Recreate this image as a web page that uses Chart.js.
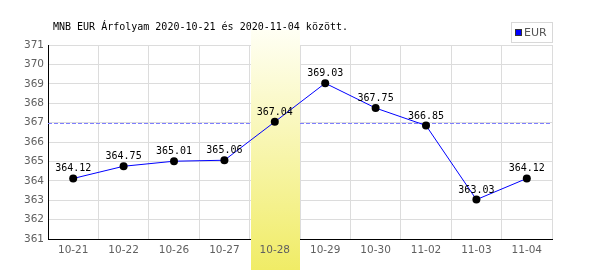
<!DOCTYPE html>
<html>
<head>
<meta charset="utf-8">
<script src="https://cdn.jsdelivr.net/npm/chart.js@4"></script>
<style>
  html, body { margin: 0; padding: 0; background: #fff; }
  #wrap { width: 600px; height: 270px; }
</style>
</head>
<body>
<div id="wrap"><canvas id="chart" width="600" height="270"></canvas></div>
<script>
// Data
const titleText = "MNB EUR Árfolyam 2020-10-21 és 2020-11-04 között.";
const seriesName = "EUR";
const dates = ["10-21", "10-22", "10-26", "10-27", "10-28", "10-29", "10-30", "11-02", "11-03", "11-04"];
const rates = [364.12, 364.75, 365.01, 365.06, 367.04, 369.03, 367.75, 366.85, 363.03, 364.12];
const yMin = 361;
const yMax = 371;
const refLevel = 367;      // dashed line
const highlightIndex = 4;  // 10-28

const monoFont = "10px 'DejaVu Sans Mono', monospace";

// Highlight column + dashed reference line, drawn over grid but under the line
const backdropPlugin = {
  id: "backdrop",
  beforeDatasetsDraw(chart) {
    const { ctx, chartArea, scales: { x, y } } = chart;
    ctx.save();
    // dashed line first, the highlight covers it
    const ly = Math.round(y.getPixelForValue(refLevel)) + 0.5;
    ctx.strokeStyle = "#7f7fff";
    ctx.lineWidth = 1;
    ctx.setLineDash([4, 2]);
    ctx.beginPath();
    ctx.moveTo(chartArea.left, ly);
    ctx.lineTo(chartArea.right, ly);
    ctx.stroke();
    ctx.setLineDash([]);

    const x0 = Math.round(x.getPixelForValue(highlightIndex - 0.5)) + 1;
    const x1 = Math.round(x.getPixelForValue(highlightIndex + 0.5));
    const top = 30, bottom = chart.height;
    const grad = ctx.createLinearGradient(0, top, 0, bottom);
    grad.addColorStop(0, "#fffff4");
    grad.addColorStop(1, "#f0ec66");
    ctx.fillStyle = grad;
    ctx.fillRect(x0, top, x1 - x0, bottom - top);
    ctx.restore();
  }
};

// Value labels, title and legend box
const overlayPlugin = {
  id: "overlay",
  afterDatasetsDraw(chart) {
    const { ctx } = chart;
    const meta = chart.getDatasetMeta(0);
    ctx.save();
    ctx.font = monoFont;
    ctx.fillStyle = "#000";
    ctx.textAlign = "center";
    ctx.textBaseline = "alphabetic";
    meta.data.forEach((pt, i) => {
      ctx.fillText(rates[i].toFixed(2), pt.x, pt.y - 7);
    });
    ctx.restore();
  },
  afterDraw(chart) {
    const { ctx } = chart;
    ctx.save();
    // title
    ctx.font = monoFont;
    ctx.fillStyle = "#000";
    ctx.textAlign = "left";
    ctx.textBaseline = "alphabetic";
    ctx.fillText(titleText, 53, 30);

    // legend
    ctx.strokeStyle = "#d8d8d8";
    ctx.lineWidth = 1;
    ctx.strokeRect(511.5, 22.5, 41, 20);
    ctx.fillStyle = "#0000ff";
    ctx.fillRect(515, 29, 7, 7);
    ctx.strokeStyle = "#333";
    ctx.strokeRect(515.5, 29.5, 6, 6);
    ctx.font = "11px 'DejaVu Sans', sans-serif";
    ctx.fillStyle = "#555";
    ctx.textBaseline = "middle";
    ctx.fillText(seriesName, 524, 33);
    ctx.restore();
  }
};

const ctx = document.getElementById("chart").getContext("2d");
const chart = new Chart(ctx, {
  type: "line",
  data: {
    labels: dates,
    datasets: [{
      label: seriesName,
      data: rates,
      borderColor: "#0000ff",
      borderWidth: 1,
      tension: 0,
      pointRadius: 4,
      pointBackgroundColor: "#000",
      pointBorderColor: "#000",
      pointBorderWidth: 0,
      fill: false
    }]
  },
  options: {
    responsive: false,
    animation: false,
    devicePixelRatio: 1,
    layout: { padding: { top: 45, right: 48, left: 0, bottom: 0 } },
    plugins: {
      legend: { display: false },
      title: { display: false },
      tooltip: { enabled: false }
    },
    scales: {
      x: {
        offset: true,
        grid: { offset: true, color: "#dcdcdc", drawTicks: false },
        border: { color: "#000", width: 1 },
        ticks: {
          z: 1,
          padding: 5,
          color: "#606060",
          font: { family: "'DejaVu Sans', sans-serif", size: 10.5 },
          maxRotation: 0,
          autoSkip: false
        },
        afterFit(scale) { scale.height = 31; }
      },
      y: {
        min: yMin,
        max: yMax,
        grid: { color: "#dcdcdc", drawTicks: false },
        border: { color: "#000", width: 1 },
        ticks: {
          stepSize: 1,
          padding: 4,
          color: "#606060",
          font: { family: "'DejaVu Sans', sans-serif", size: 10.5 }
        },
        afterFit(scale) { scale.width = 48; }
      }
    }
  },
  plugins: [backdropPlugin, overlayPlugin]
});
</script>
</body>
</html>
